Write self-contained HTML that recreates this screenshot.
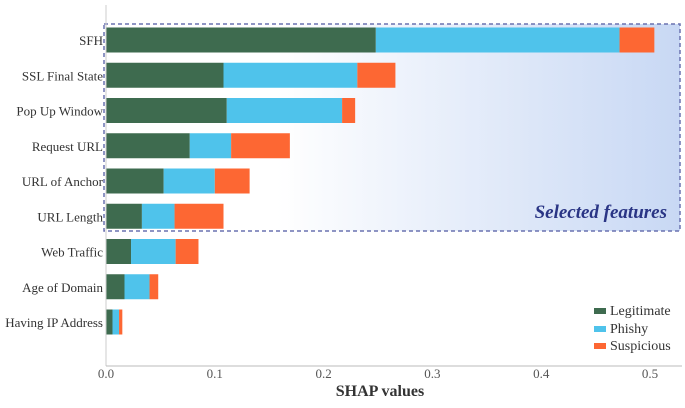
<!DOCTYPE html>
<html><head><meta charset="utf-8"><style>
body{margin:0;background:#fff;}
svg, svg text{font-family:"Liberation Serif","DejaVu Serif",serif;}
</style></head><body>
<svg id="chart" width="685" height="403" font-family="Liberation Serif, serif">
<defs><linearGradient id="g" x1="0" x2="1" y1="0" y2="0"><stop offset="0.3" stop-color="#ffffff"/><stop offset="1" stop-color="#c8d8f4"/></linearGradient></defs>
<rect x="104" y="24" width="576" height="207" fill="url(#g)" stroke="#6a72b0" stroke-width="1.5" stroke-dasharray="4,3"/>
<text x="667" y="218" text-anchor="end" font-family="Liberation Serif, serif" font-size="19" font-style="italic" font-weight="bold" fill="#2a3585">Selected features</text>
<g id="bars"></g>
<line x1="106" y1="5" x2="106" y2="366" stroke="#ccc"/>
<line x1="106" y1="366" x2="682" y2="366" stroke="#bbb"/>
<g id="ticks"></g>
<text x="380" y="396" text-anchor="middle" font-family="Liberation Serif, serif" font-size="16" font-weight="bold" fill="#333">SHAP values</text>
<g font-family="Liberation Serif, serif">
<rect x="594" y="308" width="12" height="6" fill="#3e6b4f"/>
<text x="610" y="315" font-size="14" fill="#333">Legitimate</text>
<rect x="594" y="326" width="12" height="6" fill="#4fc3eb"/>
<text x="610" y="333" font-size="14" fill="#333">Phishy</text>
<rect x="594" y="343" width="12" height="6" fill="#fd6733"/>
<text x="610" y="350" font-size="14" fill="#333">Suspicious</text>
</g>
</svg>
<script>
const categories=["SFH","SSL Final State","Pop Up Window","Request URL","URL of Anchor","URL Length","Web Traffic","Age of Domain","Having IP Address"];
const legitimate=[0.248,0.108,0.111,0.077,0.053,0.033,0.023,0.017,0.006];
const phishy=[0.224,0.123,0.106,0.038,0.047,0.030,0.041,0.023,0.006];
const suspicious=[0.032,0.035,0.012,0.054,0.032,0.045,0.021,0.008,0.003];
const xTicks=[0,0.1,0.2,0.3,0.4,0.5];
const xTickLabels=["0.0","0.1","0.2","0.3","0.4","0.5"];
const NS="http://www.w3.org/2000/svg";
const x=v=>106+v*1088;
const yc=i=>40+i*35.25;
const bars=document.getElementById('bars');
const series=[[legitimate,"#3e6b4f","legitimate"],[phishy,"#4fc3eb","phishy"],[suspicious,"#fd6733","suspicious"]];
categories.forEach((c,i)=>{
  let acc=0;
  series.forEach(([arr,col,nm])=>{
    const r=document.createElementNS(NS,'rect');
    r.setAttribute('x',x(acc));r.setAttribute('width',x(acc+arr[i])-x(acc));
    r.setAttribute('y',yc(i)-12.5);r.setAttribute('height',25);r.setAttribute('fill',col);
    
    
    bars.appendChild(r);acc+=arr[i];
  });
  const t=document.createElementNS(NS,'text');
  t.setAttribute('x',103);t.setAttribute('y',yc(i)+5);t.setAttribute('text-anchor','end');
  t.setAttribute('font-family','Liberation Serif, serif');
  t.setAttribute('font-size','13');t.setAttribute('fill','#333');t.textContent=c;
  
  
  bars.appendChild(t);
});
const ticks=document.getElementById('ticks');
xTicks.forEach((v,i)=>{
  const t=document.createElementNS(NS,'text');
  t.setAttribute('x',x(v));t.setAttribute('y',378);t.setAttribute('text-anchor','middle');
  t.setAttribute('font-family','Liberation Serif, serif');
  t.setAttribute('font-size','13');t.setAttribute('fill','#555');t.textContent=xTickLabels[i];
  
  
  ticks.appendChild(t);
});
</script>
</body></html>
